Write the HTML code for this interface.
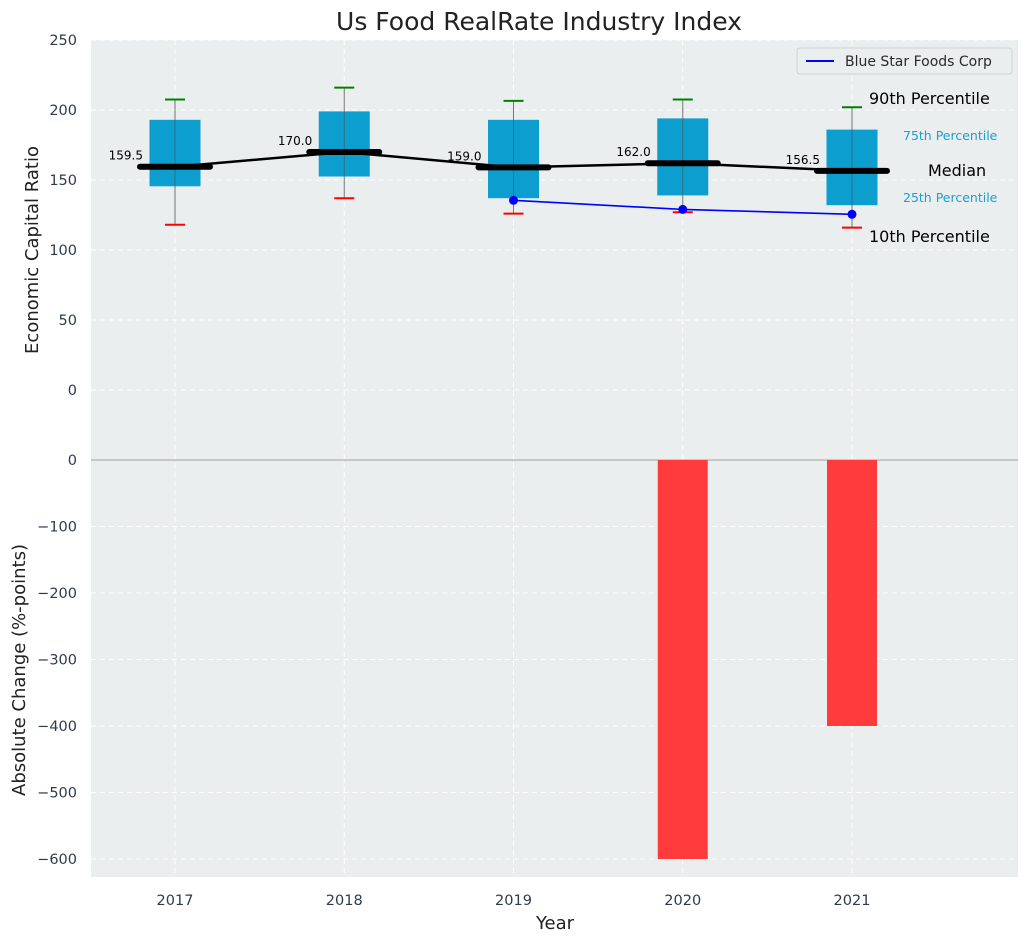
<!DOCTYPE html>
<html><head><meta charset="utf-8"><style>
body{margin:0;background:#fff;font-family:"DejaVu Sans","Liberation Sans",sans-serif}
svg text{font-family:"DejaVu Sans","Liberation Sans",sans-serif}
</style></head><body>
<svg id="c" width="1029" height="942" xmlns="http://www.w3.org/2000/svg"></svg>
<script>
const years=[2017,2018,2019,2020,2021];
const p90=[207.5,216,206.5,207.5,202];
const p75=[193,199,193,194,186];
const med=[159.5,170,159,162,156.5];
const p25=[145.5,152.5,137,139,132];
const p10=[118,137,126,127,116];
const compYears=[2019,2020,2021];
const compVals=[135.5,129,125.5];
const changeYears=[2020,2021];
const changeVals=[-600,-400];
const topTicks=[0,50,100,150,200,250];
const botTicks=[-600,-500,-400,-300,-200,-100,0];

const NS="http://www.w3.org/2000/svg";
const svg=document.getElementById('c');
function el(t,a,txt){const e=document.createElementNS(NS,t);for(const k in a)e.setAttribute(k,a[k]);if(txt!==undefined)e.textContent=txt;svg.appendChild(e);return e;}
const X0=91,X1=1018;
const x=v=>175+(v-2017)*169.25;
const yT=v=>390-v*1.4;
const yB=v=>460-v*0.665;

let e;
e=el('rect',{x:X0,y:40,width:X1-X0,height:420,fill:'#eaeeee'});

e=el('rect',{x:X0,y:460,width:X1-X0,height:417,fill:'#eaeeee'});

years.forEach(v=>{e=el('line',{x1:x(v),x2:x(v),y1:40,y2:877,stroke:'#fff','stroke-dasharray':'5,4','stroke-width':1});});
topTicks.forEach(v=>{e=el('line',{x1:X0,x2:X1,y1:yT(v),y2:yT(v),stroke:'#fff','stroke-dasharray':'5,4'});
 e=el('text',{x:77,y:yT(v)+5,'text-anchor':'end','font-size':14.5,fill:'#2e3b4e'},v);});
botTicks.forEach(v=>{e=el('line',{x1:X0,x2:X1,y1:yB(v),y2:yB(v),stroke:'#fff','stroke-dasharray':'5,4'});
 e=el('text',{x:77,y:yB(v)+5,'text-anchor':'end','font-size':14.5,fill:'#2e3b4e'},v<0?'\u2212'+(-v):v);});
e=el('line',{x1:X0,x2:X1,y1:460,y2:460,stroke:'#b0b0b0','stroke-width':1.2});
changeYears.forEach((v,i)=>{const y0=yB(0),y1=yB(changeVals[i]);e=el('rect',{x:x(v)-25,y:Math.min(y0,y1),width:50,height:Math.abs(y1-y0),fill:'#ff3b3b'});});
years.forEach((v,i)=>{const cx=x(v);
 e=el('line',{x1:cx,x2:cx,y1:yT(p90[i]),y2:yT(p10[i]),stroke:'#777','stroke-width':1});
 e=el('rect',{x:cx-25.5,y:yT(p75[i]),width:51,height:yT(p25[i])-yT(p75[i]),fill:'#0099cc','fill-opacity':0.95});
 e=el('line',{x1:cx,x2:cx,y1:yT(p75[i]),y2:yT(p25[i]),stroke:'#555','stroke-width':1,'stroke-opacity':0.6});
 e=el('line',{x1:cx-10,x2:cx+10,y1:yT(p90[i]),y2:yT(p90[i]),stroke:'green','stroke-width':2});
 e=el('line',{x1:cx-10,x2:cx+10,y1:yT(p10[i]),y2:yT(p10[i]),stroke:'red','stroke-width':2});
});
e=el('polyline',{points:years.map((v,i)=>x(v)+','+yT(med[i])).join(' '),fill:'none',stroke:'#000','stroke-width':2.5});
years.forEach((v,i)=>{const cx=x(v);
 e=el('line',{x1:cx-35,x2:cx+35,y1:yT(med[i]),y2:yT(med[i]),stroke:'#000','stroke-width':6,'stroke-linecap':'round'});
 e=el('text',{x:cx-32,y:yT(med[i])-7,'text-anchor':'end','font-size':12,fill:'#000'},med[i].toFixed(1));
});
e=el('polyline',{points:compYears.map((v,i)=>x(v)+','+yT(compVals[i])).join(' '),fill:'none',stroke:'blue','stroke-width':1.6});
compYears.forEach((v,i)=>{e=el('circle',{cx:x(v),cy:yT(compVals[i]),r:4.5,fill:'blue'});});
const ax=x(2021);
[['90th Percentile',ax+17,104,16,'#000'],['75th Percentile',ax+51,140,12.5,'#1a9fd0'],['Median',ax+76,176,16,'#000'],['25th Percentile',ax+51,202,12.5,'#1a9fd0'],['10th Percentile',ax+17,242,16,'#000']].forEach(a=>{
 e=el('text',{x:a[1],y:a[2],'font-size':a[3],fill:a[4]},a[0]);});
e=el('rect',{x:797,y:48,width:215,height:26,rx:3,fill:'#eaeeee',stroke:'#cfd3d3'});
e=el('line',{x1:806,x2:834,y1:61,y2:61,stroke:'blue','stroke-width':2});
e=el('text',{x:845,y:66,'font-size':14,fill:'#2a2a2a'},'Blue Star Foods Corp');
years.forEach(v=>{e=el('text',{x:x(v),y:905,'text-anchor':'middle','font-size':14.5,fill:'#2e3b4e'},v);});
e=el('text',{x:555,y:929,'text-anchor':'middle','font-size':18,fill:'#222'},'Year');
e=el('text',{x:0,y:0,'text-anchor':'middle','font-size':18,fill:'#222',transform:'translate(38,250) rotate(-90)'},'Economic Capital Ratio');
e=el('text',{x:0,y:0,'text-anchor':'middle','font-size':18,fill:'#222',transform:'translate(25,670) rotate(-90)'},'Absolute Change (%-points)');
e=el('text',{x:539,y:30,'text-anchor':'middle','font-size':25,fill:'#222'},'Us Food RealRate Industry Index');
</script>
</body></html>
